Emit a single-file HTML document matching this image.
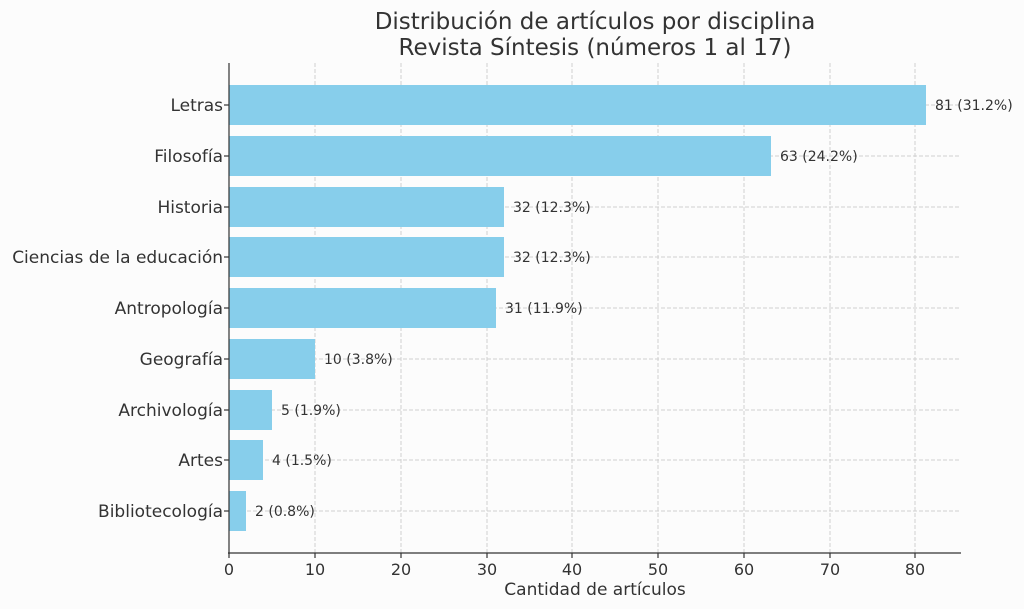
<!DOCTYPE html>
<html><head><meta charset="utf-8"><style>
html,body{margin:0;padding:0;background:#fcfcfc;}
svg{display:block;font-family:"DejaVu Sans","Liberation Sans",sans-serif;}
</style></head><body>
<svg width="1024" height="609" viewBox="0 0 1024 609">
<rect width="1024" height="609" fill="#fcfcfc"/>
<text x="595" y="29" font-size="23" text-anchor="middle" fill="#333">Distribución de artículos por disciplina</text>
<text x="595" y="55" font-size="23" text-anchor="middle" fill="#333">Revista Síntesis (números 1 al 17)</text>
<g stroke="#d0d0d0" stroke-width="1" stroke-dasharray="4,2">
<line x1="315" y1="63" x2="315" y2="553"/><line x1="401" y1="63" x2="401" y2="553"/>
<line x1="487" y1="63" x2="487" y2="553"/><line x1="572" y1="63" x2="572" y2="553"/>
<line x1="658" y1="63" x2="658" y2="553"/><line x1="744" y1="63" x2="744" y2="553"/>
<line x1="830" y1="63" x2="830" y2="553"/><line x1="915" y1="63" x2="915" y2="553"/>
<line x1="229" y1="105" x2="961" y2="105"/><line x1="229" y1="156" x2="961" y2="156"/>
<line x1="229" y1="207" x2="961" y2="207"/><line x1="229" y1="257" x2="961" y2="257"/>
<line x1="229" y1="308" x2="961" y2="308"/><line x1="229" y1="359" x2="961" y2="359"/>
<line x1="229" y1="410" x2="961" y2="410"/><line x1="229" y1="460" x2="961" y2="460"/>
<line x1="229" y1="511" x2="961" y2="511"/>
</g>
<g fill="#87ceeb">
<rect x="229" y="85" width="697" height="40"/>
<rect x="229" y="136" width="542" height="40"/>
<rect x="229" y="187" width="275" height="40"/>
<rect x="229" y="237" width="275" height="40"/>
<rect x="229" y="288" width="267" height="40"/>
<rect x="229" y="339" width="86" height="40"/>
<rect x="229" y="390" width="43" height="40"/>
<rect x="229" y="440" width="34" height="40"/>
<rect x="229" y="491" width="17" height="40"/>
</g>
<g font-size="14" fill="#333">
<text x="935" y="110">81 (31.2%)</text>
<text x="780" y="161">63 (24.2%)</text>
<text x="513" y="212">32 (12.3%)</text>
<text x="513" y="262">32 (12.3%)</text>
<text x="505" y="313">31 (11.9%)</text>
<text x="324" y="364">10 (3.8%)</text>
<text x="281" y="415">5 (1.9%)</text>
<text x="272" y="465">4 (1.5%)</text>
<text x="255" y="516">2 (0.8%)</text>
</g>
<g font-size="17" fill="#333" text-anchor="end">
<text x="223" y="111">Letras</text>
<text x="223" y="162">Filosofía</text>
<text x="223" y="213">Historia</text>
<text x="223" y="263">Ciencias de la educación</text>
<text x="223" y="314">Antropología</text>
<text x="223" y="365">Geografía</text>
<text x="223" y="416">Archivología</text>
<text x="223" y="466">Artes</text>
<text x="223" y="517">Bibliotecología</text>
</g>
<g stroke="#333" stroke-width="1.2">
<line x1="229" y1="63" x2="229" y2="554"/>
<line x1="228" y1="553" x2="961" y2="553"/>
<line x1="229" y1="553" x2="229" y2="558"/><line x1="315" y1="553" x2="315" y2="558"/>
<line x1="401" y1="553" x2="401" y2="558"/><line x1="487" y1="553" x2="487" y2="558"/>
<line x1="572" y1="553" x2="572" y2="558"/><line x1="658" y1="553" x2="658" y2="558"/>
<line x1="744" y1="553" x2="744" y2="558"/><line x1="830" y1="553" x2="830" y2="558"/>
<line x1="915" y1="553" x2="915" y2="558"/>
<line x1="224" y1="105" x2="229" y2="105"/><line x1="224" y1="156" x2="229" y2="156"/>
<line x1="224" y1="207" x2="229" y2="207"/><line x1="224" y1="257" x2="229" y2="257"/>
<line x1="224" y1="308" x2="229" y2="308"/><line x1="224" y1="359" x2="229" y2="359"/>
<line x1="224" y1="410" x2="229" y2="410"/><line x1="224" y1="460" x2="229" y2="460"/>
<line x1="224" y1="511" x2="229" y2="511"/>
</g>
<g font-size="16" fill="#333" text-anchor="middle">
<text x="229" y="575">0</text><text x="315" y="575">10</text><text x="401" y="575">20</text>
<text x="487" y="575">30</text><text x="572" y="575">40</text><text x="658" y="575">50</text>
<text x="744" y="575">60</text><text x="830" y="575">70</text><text x="915" y="575">80</text>
<text x="595" y="595" font-size="17">Cantidad de artículos</text>
</g>
</svg>
</body></html>
